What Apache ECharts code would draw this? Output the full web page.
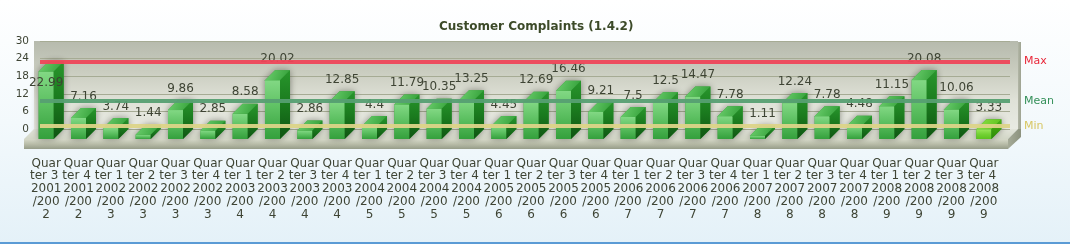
<!DOCTYPE html>
<html><head><meta charset="utf-8">
<script src="https://cdn.jsdelivr.net/npm/echarts@6/dist/echarts.min.js"></script>
<style>html,body{margin:0;padding:0;background:#fff;}#c{width:1070px;height:244px;}</style>
</head><body><div id="c"></div>
<script>
const categories = [
  'Quarter 3 2001/2002','Quarter 4 2001/2002','Quarter 1 2002/2003','Quarter 2 2002/2003',
  'Quarter 3 2002/2003','Quarter 4 2002/2003','Quarter 1 2003/2004','Quarter 2 2003/2004',
  'Quarter 3 2003/2004','Quarter 4 2003/2004','Quarter 1 2004/2005','Quarter 2 2004/2005',
  'Quarter 3 2004/2005','Quarter 4 2004/2005','Quarter 1 2005/2006','Quarter 2 2005/2006',
  'Quarter 3 2005/2006','Quarter 4 2005/2006','Quarter 1 2006/2007','Quarter 2 2006/2007',
  'Quarter 3 2006/2007','Quarter 4 2006/2007','Quarter 1 2007/2008','Quarter 2 2007/2008',
  'Quarter 3 2007/2008','Quarter 4 2007/2008','Quarter 1 2008/2009','Quarter 2 2008/2009',
  'Quarter 3 2008/2009','Quarter 4 2008/2009'
];
const complaints = [
  22.99, 7.16, 3.74, 1.44, 9.86, 2.85, 8.58, 20.02, 2.86, 12.85,
  4.4, 11.79, 10.35, 13.25, 4.45, 12.69, 16.46, 9.21, 7.5, 12.5,
  14.47, 7.78, 1.11, 12.24, 7.78, 4.48, 11.15, 20.08, 10.06, 3.33
];
const yMin = 0, yMax = 30, yInterval = 6;
const refLineNames = ['Max', 'Mean', 'Min'];
const chartTitle = 'Customer Complaints (1.4.2)';

const LG = (x0,y0,x1,y1,stops) => new echarts.graphic.LinearGradient(x0,y0,x1,y1,
  stops.map((c,i)=>({offset: i/(stops.length-1), color: c})));

const DX = 10, DY = 10; // depth: back plane = front plane + (DX, -DY)

function renderWall(params, api) {
  const cs = params.coordSys;
  const L = cs.x - 6, R = cs.x + cs.width + 8, T = cs.y, B = cs.y + cs.height;
  return {type:'group', children:[
    {type:'rect', shape:{x:L, y:T, width:R-L, height:B-T},
      style:{fill: LG(0,0,0,1,['#b6baad','#c9ccbf','#dfe1d7','#e8eae2'])}},
    {type:'rect', shape:{x:R, y:T+1, width:3, height:B-T+2},
      style:{fill: LG(0,0,1,0,['#b2b6a6','#9ea391'])}},
    {type:'polygon', shape:{points:[[L,B],[R,B],[R-DX,B+DY],[L-DX,B+DY]]},
      style:{fill: LG(0,0,0,1,['#e2e4da','#d2d6c6'])}},
    {type:'rect', shape:{x:L-DX, y:B+DY, width:R-L, height:10},
      style:{fill: LG(0,0,0,1,['#d6d9c9','#b9bda9','#969c88'])}},
    {type:'polygon', shape:{points:[[R-DX,B+DY],[R,B],[R+3,B],[R+3,B+8],[R-DX,B+DY+10]]},
      style:{fill: LG(0,0,1,0,['#a6ab98','#8c927e'])}}
  ]};
}

function renderBar(params, api) {
  const i = params.dataIndex;
  const v = api.value(1);
  const front = api.coord([api.value(0), v]);
  const base = api.coord([api.value(0), 0]);
  const bw = api.size([1, 0])[0] * 0.465;
  const cx = front[0];
  const fl = cx - bw/2, fr = cx + bw/2;
  const ft = front[1], fb = base[1];
  const last = i === complaints.length - 1;
  const pal = last
    ? {front:['#9ae65a','#74d234','#5cc21e'], top:['#8ee04a','#5cc21a'], side:['#4cb414','#2e8a08']}
    : {front:['#82d884','#5bbf60','#34a03c'], top:['#6fd070','#2f9d35'], side:['#28962c','#1a7a1e','#0f5412']};
  const hex = [[fl,fb],[fl,ft],[fl+DX,ft-DY],[fr+DX,ft-DY],[fr+DX,fb-DY],[fr,fb]];
  let ly = ft - DY - 11.5, lx = cx + DX/2;
  if (ly < params.coordSys.y - DY + 12) { ly = ft + 11; lx = cx; }
  return {type:'group', children:[
    {type:'polygon', shape:{points:hex},
      style:{fill:'#3a9a3a', shadowBlur:7, shadowColor:'rgba(40,40,30,0.5)'}},
    {type:'rect', shape:{x:fl, y:ft, width:bw, height:Math.max(fb-ft,0)},
      style:{fill: LG(0,0,0,1,pal.front)}},
    {type:'polygon', shape:{points:[[fl,ft],[fl+DX,ft-DY],[fr+DX,ft-DY],[fr,ft]]},
      style:{fill: LG(0,0,1,1,pal.top)}},
    {type:'polygon', shape:{points:[[fr,ft],[fr+DX,ft-DY],[fr+DX,fb-DY],[fr,fb]]},
      style:{fill: LG(0,0,0,1,pal.side)}},
    {type:'text', style:{text: String(complaints[i]), x: lx, y: ly, align:'center', verticalAlign:'middle',
      font:'12px "DejaVu Sans"', fill:'#3e4434'}}
  ]};
}

const chart = echarts.init(document.getElementById('c'));
chart.setOption({
  animation: false,
  backgroundColor: LG(0,0,0,1,['#ffffff','#f3f9fc','#e4f1f8']),
  title: {text: chartTitle, left: 434, top: 16,
    textStyle:{fontFamily:'DejaVu Sans', fontSize:12, fontWeight:'bold', color:'#3c4a28'}},
  grid: [
    {left: 30, right: 70, top: 51, bottom: 105},   // front plane (bars, category labels)
    {left: 40, right: 60, top: 41, bottom: 115}    // back wall (value axis, reference lines)
  ],
  xAxis: [
    {type:'category', gridIndex:0, data: categories,
      axisLine:{show:false}, axisTick:{show:false}, splitLine:{show:false},
      axisLabel:{interval:0, fontFamily:'DejaVu Sans', fontSize:12, color:'#3e4434',
        width:33, overflow:'breakAll', lineHeight:12.8, margin:18}},
    {type:'category', gridIndex:1, data: categories, show:false}
  ],
  yAxis: [
    {type:'value', gridIndex:0, min:yMin, max:yMax, interval:yInterval, show:false, splitLine:{show:false}},
    {type:'value', gridIndex:1, min:yMin, max:yMax, interval:yInterval, z: 1.5,
      axisLine:{show:false}, axisTick:{show:false},
      axisLabel:{fontFamily:'DejaVu Sans', fontSize:10.5, color:'#3e4434', margin:11},
      splitLine:{lineStyle:{color:'#a6ab94', width:1}}}
  ],
  graphic: [{type:'rect', left:0, bottom:0, shape:{width:1070, height:2}, style:{fill:'#5b9bd5'}}],
  series: [
    {type:'custom', z:1, silent:true, xAxisIndex:1, yAxisIndex:1, renderItem: renderWall, data:[[0,0]]},
    {type:'line', z:2, silent:true, xAxisIndex:1, yAxisIndex:1, data: complaints, showSymbol:false, symbol:'none',
      lineStyle:{opacity:0, width:0},
      markLine:{silent:true, symbol:['none','none'], precision:2,
        label:{position:'end', distance:14, fontFamily:'DejaVu Sans', fontSize:11, formatter:'{b}'},
        data:[
          {type:'max', name:refLineNames[0], lineStyle:{color:'#ee4658', width:4, type:'solid', opacity:0.95},
            label:{color:'#e8192c'}},
          {type:'average', name:refLineNames[1], lineStyle:{color:'#569f72', width:4, type:'solid', opacity:0.95},
            label:{color:'#2a8a50'}},
          {type:'min', name:refLineNames[2], lineStyle:{color:'#dcd488', width:4, type:'solid', opacity:0.95},
            label:{color:'#d6c45c'}}
        ]}},
    {type:'custom', z:3, silent:true, xAxisIndex:0, yAxisIndex:0, renderItem: renderBar,
      data: complaints.map((v, i) => [i, v])}
  ]
});
</script></body></html>
